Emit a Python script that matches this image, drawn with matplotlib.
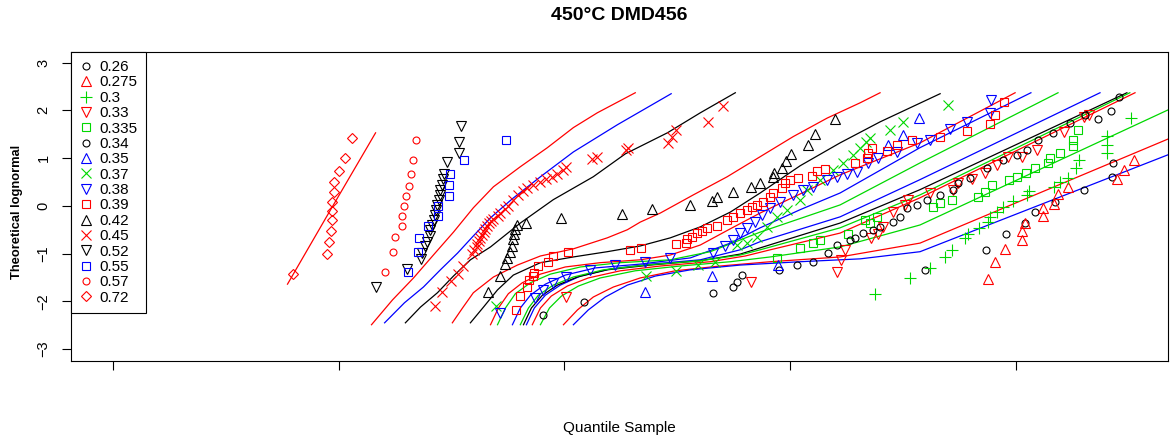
import matplotlib
matplotlib.use("Agg")
import matplotlib.pyplot as plt
from matplotlib.lines import Line2D

plt.rcParams['font.family'] = ['Liberation Sans', 'DejaVu Sans']

# legend labels, in legend order
labels = ["0.26", "0.275", "0.3", "0.33", "0.335", "0.34", "0.35", "0.37",
          "0.38", "0.39", "0.42", "0.45", "0.52", "0.55", "0.57", "0.72"]

# sample points: x = sample quantile (axis unlabeled), y = theoretical lognormal
x_026 = [1.907, 2.088, 2.659, 2.748, 2.765, 2.788, 3.597, 3.867, 3.956, 4.040, 4.084, 4.173,
         4.301, 4.425, 4.429, 4.363, 4.420, 4.456]
y_026 = [-2.29, -2.01, -1.82, -1.70, -1.59, -1.45, -1.34, -0.92, -0.59, -0.36, -0.13, 0.08,
         0.34, 0.61, 0.90, 1.82, 1.99, 2.29]

x_0275 = [3.876, 3.907, 3.951, 4.027, 4.027, 4.040, 4.119, 4.119, 4.168, 4.186, 4.230, 4.447,
          4.478, 4.522]
y_0275 = [-1.53, -1.17, -0.90, -0.71, -0.52, -0.36, -0.21, -0.04, 0.04, 0.25, 0.40, 0.57,
          0.75, 0.96]

x_03 = [3.376, 3.531, 3.619, 3.686, 3.717, 3.774, 3.788, 3.836, 3.876, 3.885, 3.916, 3.942,
        3.987, 4.049, 4.058, 4.168, 4.195, 4.230, 4.265, 4.279, 4.403, 4.403, 4.403, 4.509]
y_03 = [-1.84, -1.51, -1.30, -1.07, -0.92, -0.67, -0.59, -0.46, -0.34, -0.23, -0.13, -0.02,
        0.10, 0.23, 0.31, 0.40, 0.50, 0.59, 0.80, 0.96, 1.11, 1.28, 1.47, 1.84]

x_033 = [2.009, 2.827, 3.208, 3.226, 3.243, 3.358, 3.389, 3.412, 3.456, 3.509, 3.522, 3.619,
         3.721, 3.743, 3.805, 3.863, 3.916, 3.965, 4.027, 4.093, 4.212, 4.301, 4.323]
y_033 = [-1.91, -1.59, -1.38, -1.13, -0.92, -0.67, -0.59, -0.44, -0.13, 0.02, 0.13, 0.27,
         0.34, 0.48, 0.57, 0.69, 0.86, 1.03, 1.03, 1.17, 1.55, 1.87, 1.91]

x_0335 = [2.942, 3.044, 3.102, 3.133, 3.257, 3.332, 3.354, 3.385, 3.633, 3.664, 3.717, 3.832,
          3.863, 3.894, 3.969, 4.004, 4.044, 4.084, 4.142, 4.150, 4.195, 4.252, 4.252, 4.274]
y_0335 = [-1.09, -0.88, -0.78, -0.71, -0.59, -0.29, -0.36, -0.23, -0.02, 0.06, 0.13, 0.19,
          0.29, 0.44, 0.55, 0.61, 0.69, 0.80, 0.90, 1.01, 1.11, 1.26, 1.38, 1.59]

x_034 = [2.951, 3.031, 3.102, 3.168, 3.208, 3.265, 3.288, 3.323, 3.367, 3.398, 3.456, 3.487,
         3.518, 3.562, 3.606, 3.664, 3.721, 3.743, 3.796, 3.872, 3.942, 4.004, 4.049, 4.097,
         4.164, 4.239, 4.305]
y_034 = [-1.34, -1.24, -1.17, -0.99, -0.82, -0.71, -0.67, -0.57, -0.50, -0.44, -0.34, -0.23,
         -0.04, 0.02, 0.13, 0.23, 0.34, 0.48, 0.59, 0.80, 0.96, 1.07, 1.17, 1.38,
         1.53, 1.74, 1.91]

x_035 = [2.358, 2.655, 2.947, 3.434, 3.500, 3.571]
y_035 = [-1.80, -1.47, -1.24, 1.28, 1.49, 1.84]

x_037 = [1.699, 2.363, 2.496, 2.593, 2.668, 2.765, 2.810, 2.854, 2.898, 2.942, 2.987, 3.044,
         3.075, 3.133, 3.190, 3.235, 3.279, 3.310, 3.336, 3.354, 3.442, 3.500, 3.699]
y_037 = [-2.10, -1.47, -1.36, -1.24, -1.17, -0.82, -0.78, -0.65, -0.44, -0.23, -0.08, 0.13,
         0.34, 0.55, 0.75, 0.90, 1.07, 1.22, 1.34, 1.43, 1.59, 1.76, 2.12]

x_038 = [1.717, 1.872, 1.907, 1.951, 2.009, 2.115, 2.226, 2.358, 2.469, 2.659, 2.712, 2.748,
         2.779, 2.810, 2.845, 2.876, 2.912, 2.956, 3.013, 3.058, 3.102, 3.164, 3.208, 3.252,
         3.296, 3.345, 3.389, 3.473, 3.562, 3.619, 3.708, 3.783, 3.885, 3.889]
y_038 = [-2.24, -1.93, -1.76, -1.61, -1.49, -1.34, -1.24, -1.17, -1.09, -0.99, -0.84, -0.71,
         -0.57, -0.46, -0.34, -0.19, -0.04, 0.08, 0.23, 0.34, 0.40, 0.55, 0.61, 0.67,
         0.71, 0.90, 1.01, 1.13, 1.32, 1.38, 1.61, 1.76, 1.95, 2.22]

x_039 = [1.788, 1.805, 1.836, 1.845, 1.863, 1.867, 1.885, 1.929, 1.951, 2.018, 2.292, 2.341,
         2.496, 2.540, 2.544, 2.566, 2.588, 2.611, 2.633, 2.677, 2.721, 2.748, 2.779, 2.810,
         2.832, 2.854, 2.881, 2.912, 2.925, 2.965, 2.978, 3.000, 3.035, 3.097, 3.119, 3.155,
         3.288, 3.341, 3.345, 3.363, 3.429, 3.473, 3.540, 3.664, 3.783, 3.885, 3.907, 3.947]
y_039 = [-2.18, -1.89, -1.70, -1.55, -1.47, -1.40, -1.26, -1.17, -1.05, -0.96, -0.92, -0.88,
         -0.80, -0.78, -0.69, -0.65, -0.57, -0.52, -0.46, -0.42, -0.29, -0.23, -0.15, -0.08,
         -0.02, 0.02, 0.08, 0.19, 0.27, 0.38, 0.48, 0.55, 0.59, 0.63, 0.73, 0.78,
         0.90, 1.01, 1.11, 1.22, 1.15, 1.28, 1.38, 1.45, 1.57, 1.72, 1.91, 2.18]

x_042 = [1.664, 1.717, 1.735, 1.748, 1.761, 1.770, 1.774, 1.779, 1.783, 1.792, 1.832, 1.987,
         2.257, 2.389, 2.558, 2.655, 2.677, 2.748, 2.827, 2.867, 2.925, 2.929, 2.965, 2.982,
         3.004, 3.080, 3.111, 3.199]
y_042 = [-1.80, -1.47, -1.22, -1.09, -0.96, -0.84, -0.69, -0.59, -0.48, -0.40, -0.36, -0.25,
         -0.17, -0.06, 0.02, 0.10, 0.19, 0.29, 0.40, 0.48, 0.61, 0.69, 0.80, 0.94,
         1.09, 1.28, 1.51, 1.82]

x_045 = [1.425, 1.460, 1.496, 1.531, 1.549, 1.593, 1.602, 1.611, 1.615, 1.624, 1.628, 1.637,
         1.642, 1.650, 1.659, 1.668, 1.677, 1.686, 1.704, 1.717, 1.735, 1.752, 1.774, 1.796,
         1.819, 1.836, 1.863, 1.894, 1.920, 1.947, 1.969, 1.996, 2.009, 2.124, 2.146, 2.274,
         2.283, 2.460, 2.478, 2.496, 2.637, 2.704]
y_045 = [-2.10, -1.80, -1.57, -1.43, -1.26, -1.01, -0.92, -0.86, -0.80, -0.73, -0.67, -0.61,
         -0.55, -0.48, -0.42, -0.36, -0.31, -0.27, -0.21, -0.15, -0.06, 0.00, 0.13, 0.23,
         0.31, 0.38, 0.44, 0.50, 0.57, 0.61, 0.67, 0.75, 0.82, 0.99, 1.03, 1.17,
         1.22, 1.32, 1.45, 1.59, 1.76, 2.10]

x_052 = [1.165, 1.304, 1.366, 1.370, 1.381, 1.392, 1.404, 1.407, 1.415, 1.422, 1.425, 1.432,
         1.436, 1.444, 1.448, 1.451, 1.459, 1.463, 1.469, 1.481, 1.532, 1.532, 1.544]
y_052 = [-1.70, -1.32, -1.12, -0.98, -0.85, -0.75, -0.64, -0.50, -0.40, -0.29, -0.19, -0.08,
         0.02, 0.13, 0.23, 0.34, 0.44, 0.56, 0.67, 0.91, 1.10, 1.33, 1.68]

x_055 = [1.307, 1.353, 1.358, 1.395, 1.441, 1.441, 1.490, 1.490, 1.492, 1.554, 1.743]
y_055 = [-1.39, -0.97, -0.68, -0.43, -0.21, 0.00, 0.21, 0.43, 0.67, 0.96, 1.38]

x_057 = [1.204, 1.239, 1.248, 1.279, 1.279, 1.288, 1.298, 1.314, 1.320, 1.329, 1.341]
y_057 = [-1.39, -0.97, -0.66, -0.42, -0.21, 0.00, 0.21, 0.42, 0.67, 0.96, 1.37]

x_072 = [0.800, 0.947, 0.960, 0.968, 0.969, 0.972, 0.969, 0.982, 0.982, 1.004, 1.027, 1.058]
y_072 = [-1.42, -1.01, -0.75, -0.52, -0.29, -0.10, 0.09, 0.29, 0.51, 0.74, 1.00, 1.42]

# fitted curves, from left to right
fit01_x = [0.774, 0.965, 1.164]
fit01_y = [-1.64, -0.08, 1.53]
fit02_x = [1.146, 1.239, 1.332, 1.420, 1.509, 1.597, 1.686, 1.805, 1.925, 2.040, 2.146, 2.314]
fit02_y = [-2.49, -1.97, -1.51, -1.03, -0.55, -0.04, 0.40, 0.82, 1.22, 1.64, 1.95, 2.37]
fit03_x = [1.204, 1.292, 1.376, 1.451, 1.527, 1.597, 1.673, 1.770, 1.894, 2.040, 2.235, 2.473]
fit03_y = [-2.45, -2.03, -1.70, -1.34, -0.99, -0.63, -0.25, 0.15, 0.61, 1.13, 1.70, 2.35]
fit04_x = [1.296, 1.363, 1.438, 1.509, 1.584, 1.673, 1.805, 1.951, 2.128, 2.270, 2.456, 2.602,
           2.757]
fit04_y = [-2.45, -2.12, -1.82, -1.47, -1.13, -0.86, -0.36, 0.13, 0.61, 1.09, 1.53, 1.95, 2.37]
fit05_x = [1.504, 1.549, 1.597, 1.686, 1.792, 1.894, 2.040, 2.190, 2.279, 2.336, 2.425, 2.571,
           2.721, 2.867, 3.013, 3.164, 3.310, 3.398]
fit05_y = [-2.45, -2.14, -1.82, -1.49, -1.24, -1.05, -0.90, -0.67, -0.50, -0.34, -0.15, 0.23,
           0.61, 1.03, 1.45, 1.84, 2.16, 2.37]
fit06_x = [1.584, 1.642, 1.704, 1.774, 1.894, 2.040, 2.190, 2.336, 2.469, 2.602, 2.735, 2.867,
           3.044, 3.221, 3.398, 3.664]
fit06_y = [-2.45, -2.12, -1.76, -1.45, -1.19, -1.07, -0.96, -0.84, -0.67, -0.44, -0.13, 0.27,
           0.84, 1.32, 1.76, 2.35]
fit07_x = [1.673, 1.708, 1.752, 1.814, 1.894, 2.004, 2.159, 2.336, 2.469, 2.602, 2.735, 2.867,
           3.221, 3.575, 3.996]
fit07_y = [-2.49, -2.14, -1.84, -1.61, -1.43, -1.28, -1.19, -1.13, -1.03, -0.82, -0.48, -0.15,
           0.65, 1.32, 2.37]
fit08_x = [1.770, 1.805, 1.850, 1.916, 2.004, 2.137, 2.336, 2.558, 2.735, 2.867, 3.044, 3.221,
           3.575, 4.066]
fit08_y = [-2.49, -2.14, -1.87, -1.64, -1.45, -1.30, -1.22, -1.09, -0.78, -0.46, -0.08, 0.27,
           1.22, 2.37]
fit09_x = [1.704, 1.739, 1.783, 1.850, 1.938, 2.071, 2.248, 2.469, 2.646, 2.867, 3.221, 3.575,
           4.186]
fit09_y = [-2.49, -2.14, -1.84, -1.61, -1.43, -1.28, -1.19, -1.13, -0.96, -0.55, 0.02, 0.90,
           2.37]
fit10_x = [1.832, 1.867, 1.916, 1.982, 2.071, 2.204, 2.381, 2.602, 2.779, 2.867, 3.221, 3.575,
           4.372]
fit10_y = [-2.49, -2.14, -1.87, -1.66, -1.47, -1.32, -1.22, -1.13, -0.92, -0.75, -0.23, 0.55,
           2.37]
fit11_x = [1.819, 1.854, 1.903, 1.969, 2.058, 2.190, 2.381, 2.602, 2.779, 2.867, 3.221, 3.575,
           4.491]
fit11_y = [-2.49, -2.14, -1.87, -1.66, -1.49, -1.34, -1.24, -1.15, -1.01, -0.88, -0.36, 0.34,
           2.37]
fit12_x = [1.805, 1.841, 1.885, 1.951, 2.040, 2.173, 2.358, 2.602, 2.779, 2.867, 3.221, 3.575,
           4.504]
fit12_y = [-2.49, -2.14, -1.87, -1.66, -1.49, -1.34, -1.24, -1.15, -1.03, -0.92, -0.46, 0.23,
           2.37]
fit13_x = [1.858, 1.894, 1.942, 2.013, 2.106, 2.248, 2.425, 2.646, 2.801, 2.912, 3.221, 3.575,
           4.527]
fit13_y = [-2.49, -2.14, -1.89, -1.68, -1.51, -1.36, -1.26, -1.17, -1.05, -0.92, -0.57, 0.17,
           2.37]
fit14_x = [1.894, 1.934, 1.987, 2.062, 2.159, 2.314, 2.513, 2.735, 2.912, 3.221, 3.575, 4.673]
fit14_y = [-2.49, -2.14, -1.89, -1.68, -1.51, -1.36, -1.26, -1.17, -1.07, -0.86, -0.40, 2.01]
fit15_x = [1.996, 2.058, 2.128, 2.217, 2.336, 2.491, 2.690, 2.912, 3.221, 3.575, 4.673]
fit15_y = [-2.49, -2.18, -1.91, -1.70, -1.51, -1.36, -1.26, -1.17, -1.07, -0.78, 1.40]
fit16_x = [2.040, 2.106, 2.181, 2.279, 2.403, 2.558, 2.779, 3.044, 3.310, 3.575, 4.673]
fit16_y = [-2.49, -2.18, -1.91, -1.66, -1.47, -1.34, -1.24, -1.17, -1.11, -0.96, 1.07]

# styles
RED, GREEN, BLUE, BLACK = "#FF0000", "#00D800", "#0000FF", "#000000"
series = {
    "0.26": (x_026, y_026, BLACK, "o", 5),
    "0.275": (x_0275, y_0275, RED, "^", 7),
    "0.3": (x_03, y_03, GREEN, "+", 9),
    "0.33": (x_033, y_033, RED, "v", 7),
    "0.335": (x_0335, y_0335, GREEN, "s", 6),
    "0.34": (x_034, y_034, BLACK, "o", 5),
    "0.35": (x_035, y_035, BLUE, "^", 7),
    "0.37": (x_037, y_037, GREEN, "x", 7),
    "0.38": (x_038, y_038, BLUE, "v", 7),
    "0.39": (x_039, y_039, RED, "s", 6),
    "0.42": (x_042, y_042, BLACK, "^", 7),
    "0.45": (x_045, y_045, RED, "x", 7),
    "0.52": (x_052, y_052, BLACK, "v", 7),
    "0.55": (x_055, y_055, BLUE, "s", 6),
    "0.57": (x_057, y_057, RED, "o", 5),
    "0.72": (x_072, y_072, RED, "D", 5.5),
}
fits = [
    (fit01_x, fit01_y, RED), (fit02_x, fit02_y, RED), (fit03_x, fit03_y, BLUE),
    (fit04_x, fit04_y, BLACK), (fit05_x, fit05_y, RED), (fit06_x, fit06_y, BLACK),
    (fit07_x, fit07_y, RED), (fit08_x, fit08_y, BLUE), (fit09_x, fit09_y, GREEN),
    (fit10_x, fit10_y, BLUE), (fit11_x, fit11_y, BLACK), (fit12_x, fit12_y, GREEN),
    (fit13_x, fit13_y, RED), (fit14_x, fit14_y, GREEN), (fit15_x, fit15_y, RED),
    (fit16_x, fit16_y, BLUE),
]

fig = plt.figure(figsize=(11.71, 4.43), dpi=100)
ax = fig.add_axes([70.7 / 1171, 82 / 443, (1168 - 70.7) / 1171, (361 - 51.7) / 443])

for fx, fy, col in fits:
    ax.plot(fx, fy, color=col, lw=0.9)

handles = []
for lab in labels:
    xs, ys, col, mk, ms = series[lab]
    ax.plot(xs, ys, linestyle="none", marker=mk, ms=ms, mfc="none", mec=col, mew=0.8)
    handles.append(Line2D([], [], linestyle="none", marker=mk, ms=ms, mfc="none",
                          mec=col, mew=0.8, label=lab))

ax.set_xlim(-0.186, 4.673)
ax.set_ylim(-3.25, 3.23)
ax.set_xticks([0, 1, 2, 3, 4])
ax.set_xticklabels([])
ax.set_yticks([-3, -2, -1, 0, 1, 2, 3])
ax.tick_params(axis="both", direction="out", length=6.5, width=0.8, labelsize=10.5)
ax.tick_params(axis="y", labelrotation=90, pad=8)
for t in ax.get_yticklabels():
    t.set_va("center")
for sp in ax.spines.values():
    sp.set_linewidth(0.8)

leg = ax.legend(handles=handles, loc="upper left", borderaxespad=0, fontsize=11,
                labelspacing=0.09, borderpad=0.55, handlelength=0.9, handletextpad=0.43,
                fancybox=False, framealpha=1, edgecolor="black")
leg.get_frame().set_linewidth(0.8)

fig.text(619 / 1171, 1 - 15 / 443, "450°C DMD456", ha="center", va="center",
         fontsize=14, fontweight="bold")
fig.text(17 / 1171, 1 - 212 / 443, "Theoretical lognormal", rotation=90, ha="center",
         va="center", fontsize=9.3, fontweight="bold")
fig.text(619 / 1171, 1 - 428 / 443, "Quantile Sample", ha="center", va="center", fontsize=11)

fig.savefig("out.png", dpi=100)
